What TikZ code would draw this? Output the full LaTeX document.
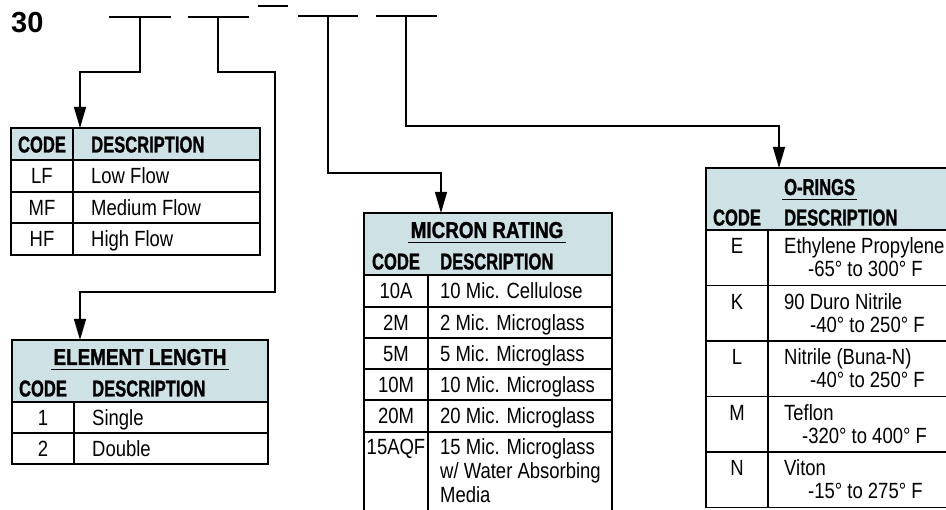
\documentclass[tikz,border=0pt]{standalone}
\usepackage{fontspec}
\setmainfont{Liberation Sans}
\newfontfamily\condf[FakeStretch=0.84]{Liberation Sans}
\newfontfamily\hdf[FakeStretch=0.72,BoldFeatures={FakeBold=1.2}]{Liberation Sans}
\newfontfamily\ttlf[FakeStretch=0.82,BoldFeatures={FakeBold=1.2}]{Liberation Sans}
\usetikzlibrary{arrows.meta}
\definecolor{hdrblue}{RGB}{206,226,229}
\begin{document}
\begin{tikzpicture}[x=1pt,y=-1pt,
  blank/.style={line width=1.4pt},
  conn/.style={line width=1.3pt,-{Triangle[width=12pt,length=21pt]}},
  tl/.style={line width=1.3pt},
  box/.style={draw=none,inner sep=0,outer sep=0,anchor=north west},
  txt/.style={font=\condf\fontsize{22}{26}\selectfont,inner sep=0,anchor=base west},
  ctxt/.style={txt,anchor=base},
  hd/.style={font=\hdf\bfseries\fontsize{23}{26}\selectfont,inner sep=0,anchor=base west},
  chd/.style={hd,anchor=base},
  ttl/.style={font=\ttlf\bfseries\fontsize{23}{26}\selectfont,inner sep=0,anchor=base},
  uline/.style={line width=1.5pt}]
\useasboundingbox (0,0) rectangle (946,510);

% part number
\node[font=\bfseries\fontsize{29}{32}\selectfont,inner sep=0,anchor=base west] (num) at (11,33) {30};
\draw[blank] (109,17) -- (171,17);
\draw[blank] (188,17) -- (249,17);
\draw[blank] (258,6) -- (288,6);
\draw[blank] (298,16) -- (358,16);
\draw[blank] (376,16) -- (437,16);

% ---------- Table 1 : flow ----------
\fill[hdrblue] (11,128) rectangle (260,160);
\node[box,draw,tl,minimum width=249pt,minimum height=127pt] (t1) at (11,128) {};
\draw[tl] (11,160) -- (260,160) (11,192) -- (260,192) (11,223) -- (260,223);
\draw[tl] (73,128) -- (73,255);
\node[chd] (t1hc) at (42,152.5) {CODE};
\node[hd]  (t1hd) at (91,152.5) {DESCRIPTION};
\node[ctxt] (t1c1) at (42,184) {LF};  \node[txt] (t1d1) at (91,184) {Low Flow};
\node[ctxt] (t1c2) at (42,216) {MF};  \node[txt] (t1d2) at (91,216) {Medium Flow};
\node[ctxt] (t1c3) at (42,247) {HF};  \node[txt] (t1d3) at (91,247) {High Flow};

% ---------- Table 2 : element length ----------
\fill[hdrblue] (12,340) rectangle (268,402);
\node[box,draw,tl,minimum width=256pt,minimum height=124pt] (t2) at (12,340) {};
\draw[tl] (12,402) -- (268,402) (12,433) -- (268,433);
\draw[tl] (74,402) -- (74,464);
\node[ttl] (t2t) at (140,365) {ELEMENT LENGTH};
\draw[uline] ([xshift=-2pt,yshift=-4pt]t2t.south west) -- ([xshift=2pt,yshift=-4pt]t2t.south east);
\node[chd] (t2hc) at (43,396.5) {CODE};
\node[hd]  (t2hd) at (92,396.5) {DESCRIPTION};
\node[ctxt] (t2c1) at (43,426) {1};  \node[txt] (t2d1) at (92,426) {Single};
\node[ctxt] (t2c2) at (43,457) {2};  \node[txt] (t2d2) at (92,457) {Double};

% ---------- Table 3 : micron rating ----------
\fill[hdrblue] (364,213) rectangle (612,275);
\node[box,minimum width=248pt,minimum height=297pt] (t3) at (364,213) {};
\draw[tl] (364,512) -- (364,213) -- (612,213) -- (612,512);
\draw[tl] (364,275) -- (612,275) (364,307) -- (612,307) (364,338) -- (612,338)
          (364,369) -- (612,369) (364,400) -- (612,400) (364,432) -- (612,432);
\draw[tl] (428,275) -- (428,512);
\node[ttl] (t3t) at (487,238) {MICRON RATING};
\draw[uline] ([xshift=-2pt,yshift=-4pt]t3t.south west) -- ([xshift=2pt,yshift=-4pt]t3t.south east);
\node[chd] (t3hc) at (396,269.5) {CODE};
\node[hd]  (t3hd) at (440,269.5) {DESCRIPTION};
\node[ctxt] (t3c1) at (396,299) {10A};   \node[txt] (t3d1) at (440,299) {10 Mic. Cellulose};
\node[ctxt] (t3c2) at (396,330.5) {2M};  \node[txt] (t3d2) at (440,330.5) {2 Mic. Microglass};
\node[ctxt] (t3c3) at (396,361.5) {5M};  \node[txt] (t3d3) at (440,361.5) {5 Mic. Microglass};
\node[ctxt] (t3c4) at (396,392.5) {10M}; \node[txt] (t3d4) at (440,392.5) {10 Mic. Microglass};
\node[ctxt] (t3c5) at (396,424) {20M};   \node[txt] (t3d5) at (440,424) {20 Mic. Microglass};
\node[ctxt] (t3c6) at (396,455) {15AQF}; \node[txt] (t3d6) at (440,455) {15 Mic. Microglass};
\node[txt] (t3d6b) at (440,479) {w/ Water Absorbing};
\node[txt] (t3d6c) at (440,503) {Media};

% ---------- Table 4 : O-rings ----------
\fill[hdrblue] (706,168) rectangle (948,230);
\node[box,minimum width=242pt,minimum height=339.5pt] (t4) at (706,168) {};
\draw[tl] (948,168) -- (706,168) -- (706,507.5) -- (948,507.5);
\draw[tl] (706,230) -- (948,230) (706,285.5) -- (948,285.5) (706,341) -- (948,341)
          (706,396.5) -- (948,396.5) (706,452) -- (948,452);
\draw[tl] (768,230) -- (768,507.5);
\node[hd] (t4t) at (784,195) {O-RINGS};
\draw[uline] ([xshift=-2pt,yshift=-4pt]t4t.south west) -- ([xshift=2pt,yshift=-4pt]t4t.south east);
\node[chd] (t4hc) at (737,225.5) {CODE};
\node[hd]  (t4hd) at (784,225.5) {DESCRIPTION};
\node[ctxt] (t4c1) at (737,254) {E}; \node[txt] (t4d1) at (784,254) {Ethylene Propylene};
\node[txt] (t4e1) at (808,277) {-65° to 300° F};
\node[ctxt] (t4c2) at (737,309.5) {K}; \node[txt] (t4d2) at (784,309.5) {90 Duro Nitrile};
\node[txt] (t4e2) at (810,332.5) {-40° to 250° F};
\node[ctxt] (t4c3) at (737,365) {L}; \node[txt] (t4d3) at (784,365) {Nitrile (Buna-N)};
\node[txt] (t4e3) at (810,388) {-40° to 250° F};
\node[ctxt] (t4c4) at (737,420.5) {M}; \node[txt] (t4d4) at (784,420.5) {Teflon};
\node[txt] (t4e4) at (802,443.5) {-320° to 400° F};
\node[ctxt] (t4c5) at (737,476) {N}; \node[txt] (t4d5) at (784,476) {Viton};
\node[txt] (t4e5) at (808,499) {-15° to 275° F};

% ---------- connectors ----------
\coordinate (s1) at (140,17); \coordinate (k1) at (80,72);
\draw[conn] (s1) |- (k1) -- (k1 |- t1.north);
\coordinate (s2) at (218,17); \coordinate (k2) at (275,72); \coordinate (k2b) at (80,292);
\draw[conn] (s2) |- (k2) |- (k2b) -- (k2b |- t2.north);
\coordinate (s3) at (328,16); \coordinate (k3) at (441,173);
\draw[conn] (s3) |- (k3) -- (k3 |- t3.north);
\coordinate (s4) at (406,16); \coordinate (k4) at (779,126);
\draw[conn] (s4) |- (k4) -- (k4 |- t4.north);
\end{tikzpicture}
\end{document}
